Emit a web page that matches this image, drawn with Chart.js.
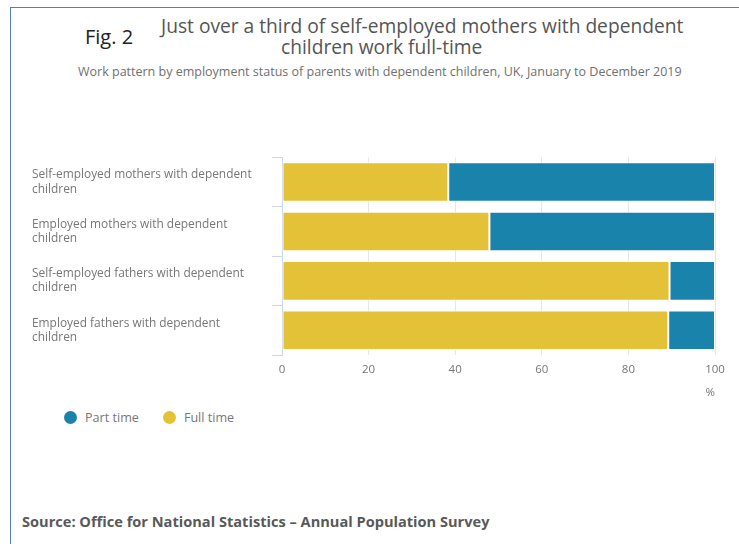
<!DOCTYPE html>
<html>
<head>
<meta charset="utf-8">
<script src="https://cdn.jsdelivr.net/npm/chart.js@4/dist/chart.umd.min.js"></script>
<style>
  body { margin: 0; width: 739px; height: 544px; background: #fff; position: relative; overflow: hidden; font-family: "Open Sans", sans-serif; }
  .frame-top { position: absolute; left: 10px; top: 7px; right: 0; height: 1px; background: #4f7ecf; }
  .frame-left { position: absolute; left: 10px; top: 7px; bottom: 0; width: 1px; background: #4f7ecf; }
  .fig { position: absolute; left: 85px; top: 23px; font-size: 20px; color: #222; }
  .title { position: absolute; top: 12px; font-size: 19.2px; color: #555; white-space: nowrap; }
  .subtitle { position: absolute; left: 78px; top: 63px; font-size: 12.5px; color: #707070; white-space: nowrap; }
  #wrap { position: absolute; left: 0; top: 140px; width: 739px; height: 260px; }
  .legend { position: absolute; top: 409px; left: 64px; font-size: 12.6px; color: #777; }
  .legend span.item { display: inline-block; margin-right: 24px; }
  .legend i { display: inline-block; width: 13px; height: 13px; border-radius: 50%; vertical-align: -2px; margin-right: 8px; }
  .source { position: absolute; left: 22px; top: 511px; font-size: 14.6px; font-weight: bold; color: #595959; white-space: nowrap; }
</style>
</head>
<body>
<div class="frame-top"></div>
<div class="frame-left"></div>
<div class="fig">Fig. 2</div>
<div class="title" style="left:161px">Just over a third of self-employed mothers with dependent</div>
<div class="title" style="left:281px; top:33px">children work full-time</div>
<div class="subtitle">Work pattern by employment status of parents with dependent children, UK, January to December 2019</div>
<div id="wrap"><canvas id="chart"></canvas></div>
<div class="legend" id="legend"></div>
<div class="source">Source: Office for National Statistics – Annual Population Survey</div>

<script>
const categories = [
    ['Self-employed mothers with dependent', 'children'],
    ['Employed mothers with dependent', 'children'],
    ['Self-employed fathers with dependent', 'children'],
    ['Employed fathers with dependent', 'children']
];
const fullTime = [38.4, 47.9, 89.5, 89.2];
const partTime = [61.6, 52.1, 10.5, 10.8];
const xTicks = [0, 20, 40, 60, 80, 100];

const fullColor = '#e3c237';
const partColor = '#1a83ab';

const ctx = document.getElementById('chart').getContext('2d');
const chart = new Chart(ctx, {
    type: 'bar',
    data: {
        labels: categories,
        datasets: [
            { label: 'Full time', data: fullTime, backgroundColor: fullColor, borderColor: '#fff', borderWidth: 1, borderSkipped: false },
            { label: 'Part time', data: partTime, backgroundColor: partColor, borderColor: '#fff', borderWidth: 1, borderSkipped: false }
        ]
    },
    options: {
        indexAxis: 'y',
        responsive: true,
        maintainAspectRatio: false,
        animation: false,
        layout: { padding: { left: 32, top: 15, right: 24, bottom: 0 } },
        datasets: { bar: { categoryPercentage: 1, barPercentage: 0.8 } },
        scales: {
            x: {
                stacked: true,
                min: 0, max: 100,
                afterBuildTicks: (scale) => { scale.ticks = xTicks.map(v => ({ value: v })); },
                afterFit: (scale) => { scale.height = 45; },
                border: { display: false },
                grid: { color: '#e6e6e6', drawTicks: false },
                ticks: { color: '#777', font: { family: 'Open Sans', size: 11.5 }, padding: 8 },
                title: { display: true, text: '%', align: 'end', color: '#777', font: { family: 'Open Sans', size: 11.5 }, padding: { top: 2, bottom: 0 } }
            },
            y: {
                stacked: true,
                afterFit: (scale) => { scale.width = 250; },
                border: { display: true, color: '#ccd6eb' },
                grid: { drawOnChartArea: false, color: '#ccd6eb', tickLength: 10, offset: true },
                ticks: { crossAlign: 'far', color: '#777', font: { family: 'Open Sans', size: 11.9 } }
            }
        },
        plugins: {
            legend: { display: false },
            tooltip: { enabled: false }
        }
    }
});

// legend: Part time first, as in the original
const legend = document.getElementById('legend');
[chart.data.datasets[1], chart.data.datasets[0]].forEach(ds => {
    const item = document.createElement('span');
    item.className = 'item';
    item.innerHTML = `<i style="background:${ds.backgroundColor}"></i>${ds.label}`;
    legend.appendChild(item);
});
</script>
</body>
</html>
